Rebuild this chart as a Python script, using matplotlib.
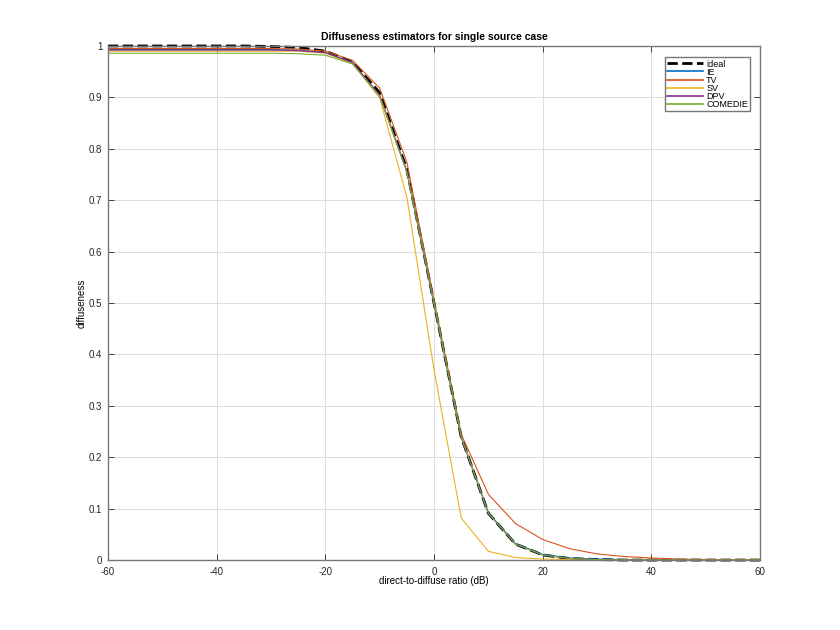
import matplotlib
matplotlib.use('Agg')
import matplotlib.pyplot as plt

plt.rcParams['font.family'] = ['Liberation Sans', 'DejaVu Sans']
plt.rcParams['axes.unicode_minus'] = False

# direct-to-diffuse ratio in dB
ddr = [-60, -55, -50, -45, -40, -35, -30, -25, -20, -15, -10, -5, 0,
       5, 10, 15, 20, 25, 30, 35, 40, 45, 50, 55, 60]

ideal = [1.0, 1.0, 1.0, 1.0, 1.0, 1.0, 0.999, 0.997, 0.990, 0.969, 0.909, 0.760, 0.500,
         0.240, 0.091, 0.031, 0.010, 0.003, 0.001, 0.0, 0.0, 0.0, 0.0, 0.0, 0.0]
ie = [0.993, 0.993, 0.993, 0.993, 0.993, 0.993, 0.993, 0.992, 0.987, 0.968, 0.903, 0.756, 0.498,
      0.240, 0.092, 0.032, 0.011, 0.004, 0.002, 0.001, 0.0, 0.0, 0.0, 0.0, 0.0]
tv = [0.995, 0.995, 0.995, 0.995, 0.995, 0.995, 0.995, 0.994, 0.990, 0.972, 0.918, 0.774, 0.505,
      0.245, 0.128, 0.071, 0.040, 0.022, 0.012, 0.007, 0.004, 0.002, 0.001, 0.0005, 0.0003]
sv = [0.990, 0.990, 0.990, 0.990, 0.990, 0.990, 0.990, 0.990, 0.986, 0.966, 0.899, 0.706, 0.370,
      0.082, 0.017, 0.005, 0.002, 0.001, 0.0, 0.0, 0.0, 0.0, 0.0, 0.0, 0.0]
dpv = [0.992, 0.992, 0.992, 0.992, 0.992, 0.992, 0.992, 0.991, 0.987, 0.968, 0.904, 0.757, 0.499,
       0.239, 0.091, 0.031, 0.010, 0.003, 0.001, 0.0, 0.0, 0.0, 0.0, 0.0, 0.0]
comedie = [0.986, 0.986, 0.986, 0.986, 0.986, 0.986, 0.986, 0.985, 0.982, 0.965, 0.902, 0.755, 0.500,
           0.240, 0.091, 0.031, 0.010, 0.003, 0.001, 0.0, 0.0, 0.0, 0.0, 0.0, 0.0]

fig = plt.figure(figsize=(8.4, 6.3), dpi=100)
ax = fig.add_axes([0.1286, 0.111, 0.7762, 0.816])

ax.plot(ddr, ideal, '--', color='black', lw=2, label='ideal', clip_on=False)
ax.plot(ddr, ie, color='#0072BD', lw=0.8, label='IE')
ax.plot(ddr, tv, color='#D95319', lw=0.8, label='TV')
ax.plot(ddr, sv, color='#EDB120', lw=0.8, label='SV')
ax.plot(ddr, dpv, color='#7E2F8E', lw=0.8, label='DPV')
ax.plot(ddr, comedie, color='#77AC30', lw=0.8, label='COMEDIE')

ax.set_xlim(-60, 60)
ax.set_ylim(0, 1)
ax.set_xticks(range(-60, 61, 20))
ax.set_yticks([i / 10 for i in range(11)])
ax.set_yticklabels(['0', '0.1', '0.2', '0.3', '0.4', '0.5', '0.6', '0.7', '0.8', '0.9', '1'])
ax.tick_params(direction='in', top=True, right=True, labelsize=7, length=4,
               width=0.6, colors='#262626')
ax.tick_params(axis='x', pad=5)
ax.tick_params(axis='y', pad=4)
ax.grid(True, color='#dcdcdc', lw=0.7)
ax.set_axisbelow(True)
for s in ax.spines.values():
    s.set_color('#777777')
    s.set_linewidth(1.0)

ax.set_xlabel('direct-to-diffuse ratio (dB)', fontsize=7, labelpad=-1)
ax.set_ylabel('diffuseness', fontsize=7, labelpad=2)
ax.set_title('Diffuseness estimators for single source case', fontsize=7.5,
             fontweight='bold', pad=4)

leg = ax.legend(loc='upper right', bbox_to_anchor=(0.985, 0.978), fontsize=6.5,
                fancybox=False, edgecolor='#777777', framealpha=1,
                labelspacing=-0.1, handlelength=4, handletextpad=0.3,
                borderpad=0.25, borderaxespad=0)
leg.get_frame().set_linewidth(1.0)
for line in leg.get_lines():
    line.set_linewidth(1.2)
leg.get_lines()[0].set_linewidth(2)

fig.savefig('out.png', dpi=100)
